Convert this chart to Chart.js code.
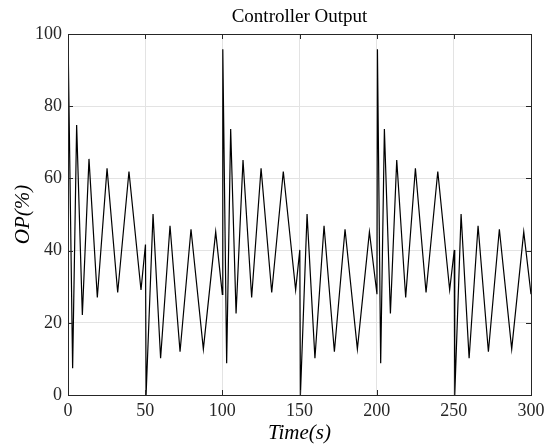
<!DOCTYPE html>
<html>
<head>
<meta charset="utf-8">
<script src="https://cdn.jsdelivr.net/npm/chart.js@4"></script>
<style>
html,body{margin:0;padding:0;background:#fff;}
#wrap{width:545px;height:447px;position:relative;}
</style>
</head>
<body>
<div id="wrap"><canvas id="c" width="545" height="447"></canvas></div>
<script>
const chartTitle = "Controller Output";
const xTitle = "Time(s)";
const yTitle = "OP(%)";
const xTicks = [0, 50, 100, 150, 200, 250, 300];
const yTicks = [0, 20, 40, 60, 80, 100];

const times = [
  0, 0.5, 3.0, 5.6, 9.3, 13.6, 19.0, 25.3, 32.2, 39.5, 47.3, 50.2, 50.6, 55.1, 60.0, 66.1, 72.6, 79.7, 87.7, 95.7,
  100.0, 100.3, 102.8, 105.4, 108.9, 113.4, 119.0, 125.1, 132.0, 139.5, 147.5, 150.2, 150.6, 154.9, 160.0, 165.9, 172.6, 179.5, 187.5, 195.3,
  200.2, 200.5, 202.6, 205.0, 208.9, 213.0, 218.8, 225.1, 232.0, 239.6, 247.3, 250.3, 250.6, 254.7, 259.9, 265.7, 272.4, 279.5, 287.5, 295.3,
  300.0
];
const opValues = [
  100, 100, 7.4, 74.8, 22.2, 65.4, 27.0, 62.8, 28.4, 61.9, 29.1, 41.7, 0, 50.1, 10.2, 46.9, 12.0, 45.9, 12.7, 45.2,
  27.9, 95.8, 8.8, 73.7, 22.6, 65.1, 27.0, 62.8, 28.4, 61.9, 29.1, 40.2, 0, 50.1, 10.2, 46.9, 12.0, 45.9, 12.7, 45.2,
  27.9, 95.8, 8.8, 73.7, 22.6, 65.1, 27.0, 62.8, 28.4, 61.9, 29.1, 40.2, 0, 50.1, 10.2, 46.9, 12.0, 45.9, 12.7, 45.2,
  27.9
];

const points = times.map((t, i) => ({x: t, y: opValues[i]}));
const SERIF = "'Liberation Serif', 'DejaVu Serif', serif";
const AXIS_COLOR = '#262626';

const boxPlugin = {
  id: 'boxTicks',
  afterDatasetsDraw(chart) {
    const {ctx, chartArea: a, scales} = chart;
    ctx.save();
    ctx.strokeStyle = AXIS_COLOR;
    ctx.lineWidth = 1;
    const len = 5;
    ctx.beginPath();
    xTicks.forEach(v => {
      const px = Math.round(scales.x.getPixelForValue(v)) + 0.5;
      ctx.moveTo(px, a.bottom); ctx.lineTo(px, a.bottom - len);
      ctx.moveTo(px, a.top); ctx.lineTo(px, a.top + len);
    });
    yTicks.forEach(v => {
      const py = Math.round(scales.y.getPixelForValue(v)) + 0.5;
      ctx.moveTo(a.left, py); ctx.lineTo(a.left + len, py);
      ctx.moveTo(a.right, py); ctx.lineTo(a.right - len, py);
    });
    ctx.stroke();
    ctx.strokeRect(Math.round(a.left) + 0.5, Math.round(a.top) + 0.5,
                   Math.round(a.right - a.left), Math.round(a.bottom - a.top));
    ctx.fillStyle = '#000';
    ctx.font = "19px " + SERIF;
    ctx.textAlign = 'center';
    ctx.textBaseline = 'middle';
    ctx.fillText(chartTitle, (a.left + a.right) / 2, 17);
    ctx.restore();
  }
};

new Chart(document.getElementById('c'), {
  type: 'line',
  data: {
    datasets: [{
      data: points,
      borderColor: '#000000',
      borderWidth: 1.2,
      pointRadius: 0,
      tension: 0,
      fill: false
    }]
  },
  options: {
    responsive: false,
    animation: false,
    events: [],
    layout: {padding: {left: 0, right: 0, top: 34, bottom: 0}},
    plugins: {
      legend: {display: false},
      tooltip: {enabled: false},
      title: {display: false}
    },
    scales: {
      x: {
        type: 'linear',
        min: 0, max: 300,
        afterFit(s) { s.height = 52; s.paddingRight = 14; s.paddingLeft = 0; },
        afterBuildTicks(s) { s.ticks = xTicks.map(v => ({value: v})); },
        ticks: {
          color: '#262626',
          font: {family: SERIF, size: 18},
          padding: 5,
          maxRotation: 0
        },
        grid: {color: '#e3e3e3', lineWidth: 1, drawTicks: false},
        border: {display: false},
        title: {
          display: true,
          text: xTitle,
          color: '#000',
          font: {family: SERIF, size: 21, style: 'italic'},
          padding: {top: 0, bottom: 1}
        }
      },
      y: {
        type: 'linear',
        min: 0, max: 100,
        afterFit(s) { s.width = 68; },
        afterBuildTicks(s) { s.ticks = yTicks.map(v => ({value: v})); },
        ticks: {
          color: '#262626',
          font: {family: SERIF, size: 18},
          padding: 6
        },
        grid: {color: '#e3e3e3', lineWidth: 1, drawTicks: false},
        border: {display: false},
        title: {
          display: true,
          text: yTitle,
          color: '#000',
          font: {family: SERIF, size: 21, style: 'italic'},
          padding: {top: 11, bottom: 0}
        }
      }
    }
  },
  plugins: [boxPlugin]
});
</script>
</body>
</html>
